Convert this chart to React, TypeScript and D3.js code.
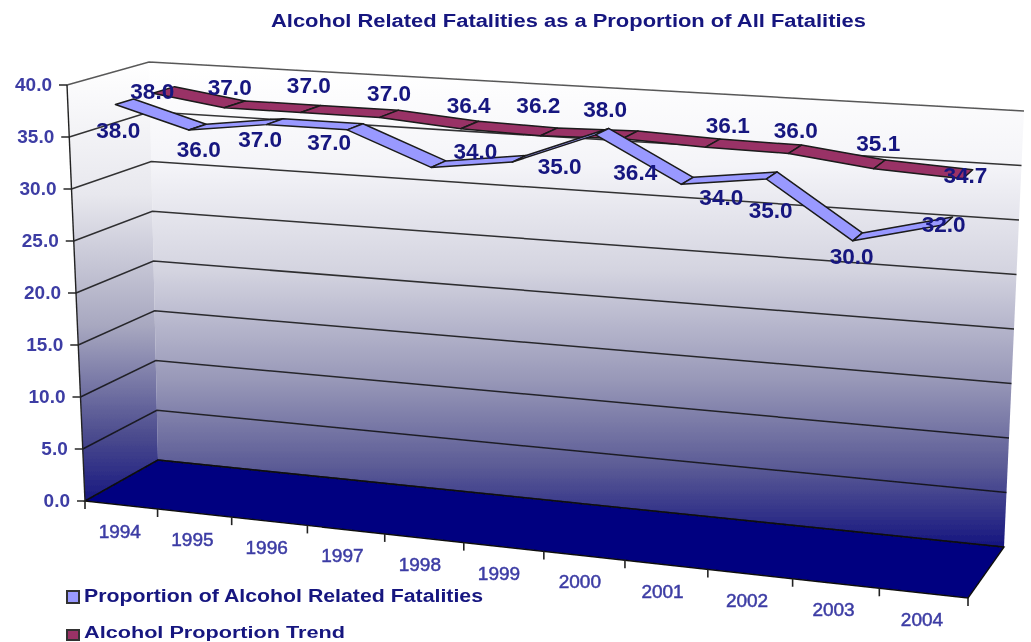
import React from "react";
import * as d3 from "d3";

const years = ["1994","1995","1996","1997","1998","1999","2000","2001","2002","2003","2004"];
const proportion = [38.0,36.0,37.0,37.0,34.0,35.0,38.0,34.0,35.0,30.0,32.0];
const trend = [38.0,37.0,37.0,37.0,36.4,36.2,36.4,36.1,36.0,35.1,34.7];
const valueTicks = [0,5,10,15,20,25,30,35,40];
const proportionName = "Proportion of Alcohol Related Fatalities";
const trendName = "Alcohol Proportion Trend";
const titleText = "Alcohol Related Fatalities as a Proportion of All Fatalities";

// label nudges (px) from each ribbon point
const nudgeA: [number, number][] = [[-6,29],[2,23],[-10,19],[-17,17],[50,-11],[54,9],[17,-21],[47,18],[8,36],[-1,21],[-3,4]];
const nudgeB: [number, number][] = [[-12,2],[-5,-16],[2,-22],[8,-19],[11,-18],[2,-25],[18,39],[27,-16],[9,-17],[3,-20],[-1,2]];

type Pt = [number, number];
// image of the chart box corners: front-left, back-left, back-right, front-right
const floorQuad: Pt[] = [[85,501],[158,460],[1004,547],[968,598]];
const topQuad: Pt[] = [[67,85],[149,62],[1024,111],[990,142]];

function homography(q: Pt[]) {
  const [[x0,y0],[x1,y1],[x2,y2],[x3,y3]] = [q[0], q[3], q[2], q[1]];
  const dx1 = x1-x2, dx2 = x3-x2, sx = x0-x1+x2-x3;
  const dy1 = y1-y2, dy2 = y3-y2, sy = y0-y1+y2-y3;
  const den = dx1*dy2-dx2*dy1;
  const g = (sx*dy2-dx2*sy)/den, h = (dx1*sy-sx*dy1)/den;
  const a = x1-x0+g*x1, b = x3-x0+h*x3, c = x0;
  const d = y1-y0+g*y1, e = y3-y0+h*y3, f = y0;
  return (u: number, v: number): Pt => {
    const k = g*u+h*v+1;
    return [(a*u+b*v+c)/k, (d*u+e*v+f)/k];
  };
}
const floorH = homography(floorQuad);
const topH = homography(topQuad);
const wScale = d3.scaleLinear().domain([0,40]).range([0,1]);
const uBand = d3.scaleBand<string>().domain(years).range([0,1]);
// the source's foreshortening along the category axis is milder than the box corners imply
const tickU = d3.scaleLinear().domain([0,0.5,1]).range([0,0.5045,1]);
const seriesU = d3.scaleLinear().domain([0,0.14,0.4,0.65,0.86,1]).range([0,0.141,0.415,0.665,0.865,1]);
const project = (u: number, v: number, val: number): Pt => {
  const b = floorH(u,v), t = topH(u,v), w = wScale(val);
  return [b[0]+(t[0]-b[0])*w, b[1]+(t[1]-b[1])*w];
};
const uc = (y: string) => (uBand(y) as number)+uBand.bandwidth()/2;
const line = d3.line();

const ribbon = (vals: number[], v0: number, v1: number) =>
  d3.pairs(vals.map((val,i)=>({val,u:seriesU(uc(years[i]))}))).map(([p,q]) =>
    line([project(p.u,v0,p.val),project(q.u,v0,q.val),project(q.u,v1,q.val),project(p.u,v1,p.val)])+"Z");

const ink = "#14147f", axisInk = "#3c3ca4", font = "'Liberation Sans', Arial, sans-serif";

function Series({vals,v0,v1,fill,stroke}:{vals:number[];v0:number;v1:number;fill:string;stroke:string}) {
  return <g>{ribbon(vals,v0,v1).map((d,i)=><path key={i} d={d} fill={fill} stroke={stroke} strokeWidth={1.5} strokeLinejoin="round"/>)}</g>;
}
function Labels({vals,v,nudge}:{vals:number[];v:number;nudge:[number,number][]}) {
  return <g>{vals.map((val,i)=>{
    const p = project(uc(years[i]),v,val);
    return <text key={i} x={p[0]+nudge[i][0]} y={p[1]+nudge[i][1]+7} textAnchor="middle" fontFamily={font} fontSize={21.5} fontWeight={700} fill={ink} textLength={44} lengthAdjust="spacingAndGlyphs">{val.toFixed(1)}</text>;
  })}</g>;
}

export default function App() {
  const backWall = line([project(0,1,40),project(1,1,40),project(1,1,0),project(0,1,0)])+"Z";
  const leftWall = line([project(0,0,40),project(0,1,40),project(0,1,0),project(0,0,0)])+"Z";
  const floor = line([project(0,0,0),project(0,1,0),project(1,1,0),project(1,0,0)])+"Z";
  return (
    <svg width={1031} height={642} style={{position:"absolute",left:0,top:0,background:"#fff"}}>
      <defs>
        <linearGradient id="wall" gradientUnits="userSpaceOnUse" x1="0" y1="70" x2="0" y2="547">
          <stop offset="0" stopColor="#ffffff"/>
          <stop offset="0.2" stopColor="#f4f4f8"/>
          <stop offset="0.42" stopColor="#d4d4e0"/>
          <stop offset="0.65" stopColor="#9898b8"/>
          <stop offset="0.83" stopColor="#5c5c96"/>
          <stop offset="1" stopColor="#15157f"/>
        </linearGradient>
        <linearGradient id="wallL" gradientUnits="userSpaceOnUse" x1="0" y1="62" x2="0" y2="501">
          <stop offset="0" stopColor="#ffffff"/>
          <stop offset="0.3" stopColor="#e8e8ee"/>
          <stop offset="0.6" stopColor="#a8a8c0"/>
          <stop offset="0.85" stopColor="#4c4c8e"/>
          <stop offset="1" stopColor="#181880"/>
        </linearGradient>
        <filter id="soft" x="-2%" y="-2%" width="104%" height="104%"><feGaussianBlur stdDeviation="0.55"/></filter>
      </defs>
      <g filter="url(#soft)">
        <text x={568.5} y={27} textAnchor="middle" fontFamily={font} fontSize={18} fontWeight={700} fill="#14147f" textLength={595} lengthAdjust="spacingAndGlyphs">{titleText}</text>
        <path d={backWall} fill="url(#wall)"/>
        <path d={leftWall} fill="url(#wallL)"/>
        <path d={floor} fill="#000080" stroke="#111" strokeWidth={1.4}/>
        {valueTicks.map(t=>{
          const a=project(0,0,t), b=project(0,1,t), c=project(1,1,t);
          return <g key={t}>
            <path d={line([a,b,c]) as string} fill="none" stroke="#111" strokeWidth={1.5} opacity={t===40?0.7:0.85}/>
            <path d={line([[a[0]-8,a[1]],a]) as string} stroke="#333" strokeWidth={1.6}/>
            <text x={a[0]-15} y={a[1]+6} textAnchor="end" fontFamily={font} fontSize={19} fontWeight={700} fill={axisInk}>{t.toFixed(1)}</text>
          </g>;
        })}
        <path d={line([project(0,0,0),project(0,0,40)]) as string} stroke="#222" strokeWidth={1.4}/>
        {d3.range(years.length+1).map(i=>{
          const p=project(tickU(i/years.length),0,0);
          return <path key={i} d={line([p,[p[0],p[1]+8]]) as string} stroke="#222" strokeWidth={1.6}/>;
        })}
        {years.map(y=>{
          const p=project(uc(y),0,0);
          return <text key={y} x={p[0]-1} y={p[1]+33} textAnchor="middle" fontFamily={font} fontSize={19} fontWeight={400} stroke={axisInk} strokeWidth={0.5} fill={axisInk}>{y}</text>;
        })}
        <Series vals={trend} v0={0.6} v1={0.88} fill="#993366" stroke="#1a1a1a"/>
        <Series vals={proportion} v0={0.14} v1={0.36} fill="#9999ff" stroke="#1a1a1a"/>
        <Labels vals={proportion} v={0.25} nudge={nudgeA}/>
        <Labels vals={trend} v={0.75} nudge={nudgeB}/>
        <rect x={67} y={591} width={12} height={12} fill="#9999ff" stroke="#333" strokeWidth={2}/>
        <text x={84} y={602} fontFamily={font} fontSize={18} fontWeight={700} fill="#14147f" textLength={399} lengthAdjust="spacingAndGlyphs">{proportionName}</text>
        <rect x={67} y={630} width={12} height={10} fill="#993366" stroke="#333" strokeWidth={2}/>
        <text x={84} y={638} fontFamily={font} fontSize={16} fontWeight={700} fill="#14147f" textLength={261} lengthAdjust="spacingAndGlyphs">{trendName}</text>
      </g>
    </svg>
  );
}
